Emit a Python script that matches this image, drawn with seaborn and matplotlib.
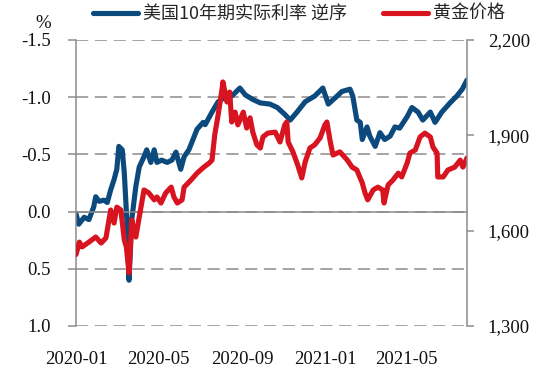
import matplotlib
matplotlib.use('Agg')
import matplotlib.pyplot as plt
import matplotlib.dates as mdates
import matplotlib.ticker as mticker
import seaborn as sns
import pandas as pd

# ---------------- data ----------------
blue_label = '美国10年期实际利率 逆序'
gold_label = '黄金价格'

blue_dates = ['2020-01-01','2020-01-05','2020-01-13','2020-01-20','2020-01-27','2020-01-30','2020-02-04',
              '2020-02-11','2020-02-16','2020-02-21','2020-02-26','2020-03-01','2020-03-04','2020-03-09',
              '2020-03-12','2020-03-16','2020-03-19','2020-03-23','2020-03-29','2020-04-03','2020-04-10',
              '2020-04-14','2020-04-20','2020-04-25','2020-04-29','2020-05-06','2020-05-14','2020-05-21',
              '2020-05-27','2020-06-03','2020-06-08','2020-06-15','2020-06-21','2020-06-27','2020-07-06',
              '2020-07-09','2020-07-19','2020-07-28','2020-08-07','2020-08-17','2020-08-29','2020-09-06',
              '2020-09-17','2020-09-28','2020-10-12','2020-10-23','2020-11-03','2020-11-11','2020-11-21',
              '2020-12-03','2020-12-17','2020-12-29','2021-01-06','2021-01-19','2021-01-26','2021-02-07',
              '2021-02-11','2021-02-17','2021-02-22','2021-02-25','2021-03-04','2021-03-08','2021-03-16',
              '2021-03-23','2021-03-30','2021-04-07','2021-04-14','2021-04-21','2021-05-02','2021-05-09',
              '2021-05-18','2021-05-25','2021-06-05','2021-06-12','2021-06-22','2021-07-04','2021-07-14',
              '2021-07-22','2021-07-29']
blue_vals = [0.02, 0.11, 0.05, 0.07, -0.04, -0.13, -0.09,
             -0.10, -0.08, -0.19, -0.28, -0.37, -0.57, -0.54,
             -0.34, 0.10, 0.60, 0.07, -0.22, -0.39, -0.48,
             -0.54, -0.43, -0.54, -0.43, -0.45, -0.43, -0.45,
             -0.52, -0.37, -0.48, -0.54, -0.63, -0.72, -0.78,
             -0.76, -0.87, -0.96, -1.00, -1.01, -1.08, -1.02,
             -0.98, -0.95, -0.94, -0.91, -0.85, -0.80, -0.87,
             -0.96, -1.01, -1.08, -0.94, -1.01, -1.05, -1.07,
             -1.01, -0.80, -0.78, -0.63, -0.74, -0.66, -0.57,
             -0.69, -0.63, -0.66, -0.74, -0.73, -0.83, -0.91,
             -0.87, -0.80, -0.87, -0.78, -0.87, -0.95, -1.01,
             -1.07, -1.15]

gold_dates = ['2020-01-01','2020-01-06','2020-01-10','2020-01-20','2020-01-30','2020-02-07','2020-02-14',
              '2020-02-21','2020-02-26','2020-03-01','2020-03-07','2020-03-12','2020-03-15','2020-03-19',
              '2020-03-23','2020-03-29','2020-04-03','2020-04-10','2020-04-17','2020-04-25','2020-04-29',
              '2020-05-05','2020-05-12','2020-05-20','2020-05-24','2020-05-29','2020-06-05','2020-06-08',
              '2020-06-18','2020-06-27','2020-07-07','2020-07-15','2020-07-19','2020-07-23','2020-07-28',
              '2020-08-03','2020-08-04','2020-08-10','2020-08-14','2020-08-17','2020-08-22','2020-08-26',
              '2020-09-03','2020-09-08','2020-09-13','2020-09-17','2020-09-23','2020-09-28','2020-10-02',
              '2020-10-09','2020-10-20','2020-10-27','2020-11-03','2020-11-06','2020-11-08','2020-11-15',
              '2020-11-22','2020-11-28','2020-12-03','2020-12-10','2020-12-17','2020-12-25','2021-01-01',
              '2021-01-04','2021-01-09','2021-01-13','2021-01-23','2021-02-03','2021-02-10','2021-02-17',
              '2021-02-25','2021-03-01','2021-03-05','2021-03-13','2021-03-20','2021-03-27','2021-03-29',
              '2021-04-04','2021-04-11','2021-04-19','2021-04-24','2021-05-02','2021-05-06','2021-05-14',
              '2021-05-21','2021-05-28','2021-06-05','2021-06-09','2021-06-15','2021-06-16','2021-06-24',
              '2021-07-01','2021-07-11','2021-07-19','2021-07-23','2021-07-29']
gold_vals = [1525, 1564, 1549, 1564, 1580, 1561, 1577,
             1665, 1624, 1674, 1665, 1571, 1549, 1467,
             1634, 1580, 1643, 1728, 1719, 1697, 1706,
             1687, 1719, 1737, 1706, 1687, 1697, 1737,
             1759, 1781, 1800, 1813, 1822, 1901, 1964,
             2049, 2068, 2005, 2036, 1942, 1973, 1933,
             1973, 1923, 1955, 1910, 1870, 1860, 1895,
             1907, 1910, 1879, 1933, 1942, 1879, 1848,
             1807, 1766, 1816, 1860, 1870, 1892, 1933,
             1942, 1879, 1838, 1848, 1822, 1800, 1791,
             1750, 1719, 1697, 1728, 1737, 1728, 1687,
             1744, 1759, 1781, 1769, 1813, 1844, 1854,
             1895, 1907, 1895, 1863, 1844, 1769, 1769,
             1791, 1800, 1822, 1800, 1829]

left_ticks = [-1.5, -1.0, -0.5, 0.0, 0.5, 1.0]
right_ticks = [1300, 1600, 1900, 2200]
xtick_dates = ['2020-01-01', '2020-05-01', '2020-09-01', '2021-01-01', '2021-05-01']

# ---------------- style ----------------
BLUE = '#0c4a7e'
RED = '#d7141f'
GRID = '#8c8c8c'
SERIF = 'Liberation Serif'

sns.set_style('white')
plt.rcParams['font.family'] = ['Noto Sans CJK SC', 'DejaVu Sans']
plt.rcParams['axes.unicode_minus'] = False

fig = plt.figure(figsize=(5.5, 3.71), dpi=100)
ax = fig.add_axes([76 / 550, 1 - 326 / 371, 391 / 550, 286 / 371])
ax2 = ax.twinx()

bdf = pd.DataFrame({'date': pd.to_datetime(blue_dates), 'val': blue_vals})
gdf = pd.DataFrame({'date': pd.to_datetime(gold_dates), 'val': gold_vals})

sns.lineplot(data=bdf, x='date', y='val', ax=ax, color=BLUE, lw=3.7, legend=False)
sns.lineplot(data=gdf, x='date', y='val', ax=ax2, color=RED, lw=3.7, legend=False)

ax.set_xlim(bdf['date'].iloc[0], bdf['date'].iloc[-1])
ax.set_ylim(left_ticks[-1], left_ticks[0])
ax.set_yticks(left_ticks)
ax.yaxis.set_major_formatter(mticker.FuncFormatter(lambda v, p: f'{v:.1f}'))
ax2.set_ylim(right_ticks[0], right_ticks[-1])
ax2.set_yticks(right_ticks)
ax2.yaxis.set_major_formatter(mticker.FuncFormatter(lambda v, p: f'{v:,.0f}'))

for a in (ax, ax2):
    a.set_xlabel('')
    a.set_ylabel('')

# grid
ax.yaxis.grid(True, color=GRID, ls=(0, (8, 4.3)), lw=1.1)
ax.xaxis.grid(False)
ax.set_axisbelow(True)

# spines
ax.spines['top'].set_visible(False)
ax.spines['right'].set_visible(False)
ax.spines['left'].set_color(GRID)
ax.spines['left'].set_linewidth(1.1)
ax.spines['bottom'].set_position(('data', 0))
ax.spines['bottom'].set_color(GRID)
ax.spines['bottom'].set_linewidth(1.1)
for s in ('top', 'bottom', 'left'):
    ax2.spines[s].set_visible(False)
ax2.spines['right'].set_color(GRID)
ax2.spines['right'].set_linewidth(1.1)

# ticks
ax.set_xticks(pd.to_datetime(xtick_dates))
ax.tick_params(axis='x', direction='in', length=6, width=1.1, color=GRID, labelbottom=False)
ax.tick_params(axis='y', direction='out', length=6, width=1.1, color=GRID, pad=12,
               labelsize=13.5, labelcolor='#111111', labelfontfamily=SERIF)
ax2.tick_params(axis='y', direction='out', length=5, width=1.1, color=GRID, pad=10,
                labelsize=13.5, labelcolor='#111111', labelfontfamily=SERIF)

sec = ax.secondary_xaxis('bottom')
sec.set_xticks(mdates.date2num(pd.to_datetime(xtick_dates)))
sec.xaxis.set_major_formatter(mdates.DateFormatter('%Y-%m'))
sec.tick_params(length=0, pad=18, labelsize=13.5, labelcolor='#111111', labelfontfamily=SERIF)
sec.spines['bottom'].set_visible(False)

fig.text(43 / 550, 1 - 23 / 371, '%', ha='center', va='center', fontsize=13.5,
         family=SERIF, color='#111111')

h1 = ax.get_lines()[0]
h2 = ax2.get_lines()[0]
fig.legend([h1, h2], [blue_label, gold_label], loc='center',
           bbox_to_anchor=(299 / 550, 1 - 14 / 371), ncol=2, frameon=False,
           fontsize=13, handlelength=2.5, handletextpad=0.25, columnspacing=2.0,
           borderaxespad=0, borderpad=0)

fig.savefig('out.png', dpi=100)
